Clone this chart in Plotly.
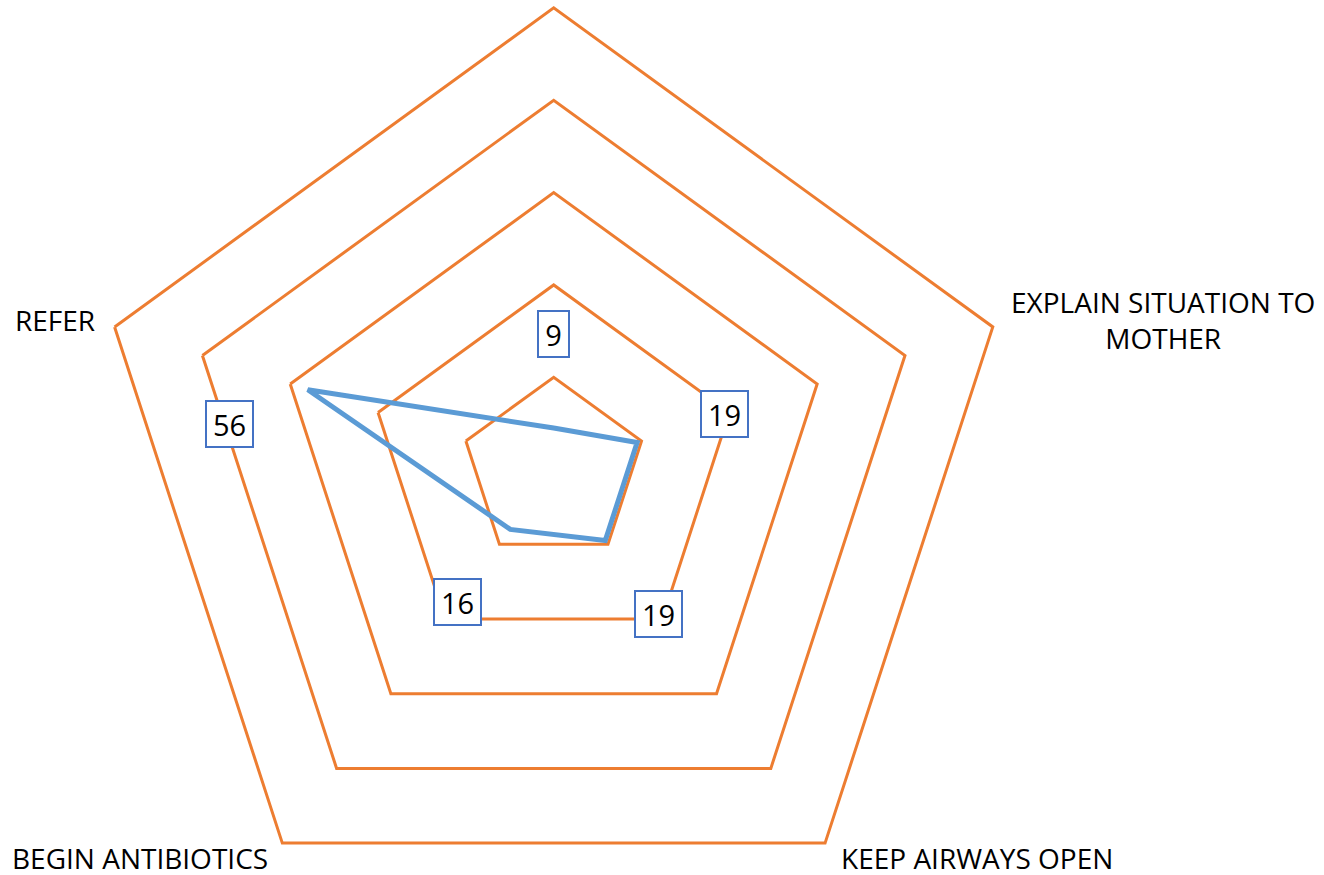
import math
import plotly.graph_objects as go

# ---- data ----
categories = [" ", "EXPLAIN SITUATION TO MOTHER", "KEEP AIRWAYS OPEN", "BEGIN ANTIBIOTICS", "REFER"]
axis_titles = ["", "EXPLAIN SITUATION TO<br>MOTHER", "KEEP AIRWAYS OPEN", "BEGIN ANTIBIOTICS", "REFER"]
values = [9, 19, 19, 16, 56]
value_labels = ["9", "19", "19", "16", "56"]
radial_max = 100
radial_step = 20

# ---- geometry ----
W, H = 1324, 940
CX, CY, R = 553.7, 469.6, 461.7
ORANGE = "#ED7D31"
BLUE = "#5B9BD5"
BOX = "#4472C4"
FONT = "Open Sans"

def angle_of(i):
    return 90 - 360.0 / len(categories) * i

def polar_px(r, ang):
    a = math.radians(ang)
    return CX + r / radial_max * R * math.cos(a), CY - r / radial_max * R * math.sin(a)

def paper(px, py):
    return px / W, 1 - py / H

fig = go.Figure()
fig.add_trace(go.Scatterpolar(
    r=values + [values[0]],
    theta=categories + [categories[0]],
    mode="lines",
    line=dict(color=BLUE, width=5),
    hoverinfo="skip",
    showlegend=False,
))

dx0 = (CX - R) / W
dx1 = (CX + R) / W
dy0 = 1 - (CY + R) / H
dy1 = 1 - (CY - R) / H

fig.update_layout(
    width=W, height=H,
    margin=dict(l=0, r=0, t=0, b=0),
    paper_bgcolor="white",
    plot_bgcolor="white",
    showlegend=False,
    polar=dict(
        domain=dict(x=[dx0, dx1], y=[dy0, dy1]),
        gridshape="linear",
        bgcolor="white",
        radialaxis=dict(
            range=[0, radial_max], dtick=radial_step, tick0=0,
            showticklabels=False, ticks="", showline=False,
            gridcolor=ORANGE, gridwidth=3,
        ),
        angularaxis=dict(
            rotation=90, direction="clockwise",
            categoryorder="array", categoryarray=categories,
            showticklabels=False, ticks="", showgrid=False,
            showline=True, linecolor=ORANGE, linewidth=3,
        ),
    ),
)

annotations = []
# data labels (boxed)
label_r = [29.4, 38.9, 38.7, 35.5, 70.9]
label_shift = [0, 0, 0, 0, 10]
for i, txt in enumerate(value_labels):
    px, py = polar_px(label_r[i], angle_of(i) + label_shift[i])
    x, y = paper(px, py)
    annotations.append(dict(
        x=x, y=y, xref="paper", yref="paper", text=txt, showarrow=False,
        xanchor="center", yanchor="middle",
        font=dict(family=FONT, size=29, color="black"),
        bgcolor="white", bordercolor=BOX, borderwidth=2, borderpad=0,
        width=(15 if len(txt) == 1 else 31) + 14, height=44,
    ))

# category labels placed next to the outer vertices
offsets = [None, (170, -7, "center"), (14, 14.5, "left"), (-12, 14.5, "right"), (-18, -6.5, "right")]
for i, t in enumerate(axis_titles):
    if not t or offsets[i] is None:
        continue
    vx, vy = polar_px(radial_max, angle_of(i))
    ox, oy, anc = offsets[i]
    x, y = paper(vx + ox, vy + oy)
    annotations.append(dict(
        x=x, y=y, xref="paper", yref="paper", text=t, showarrow=False,
        xanchor=anc, yanchor="middle", align="center",
        font=dict(family=FONT, size=28, color="black"),
    ))
fig.update_layout(annotations=annotations)

fig.write_html(
    "out.html",
    config={"displayModeBar": False},
    post_script="document.body.style.margin='0';document.body.style.overflow='hidden';document.documentElement.style.overflow='hidden';",
)
